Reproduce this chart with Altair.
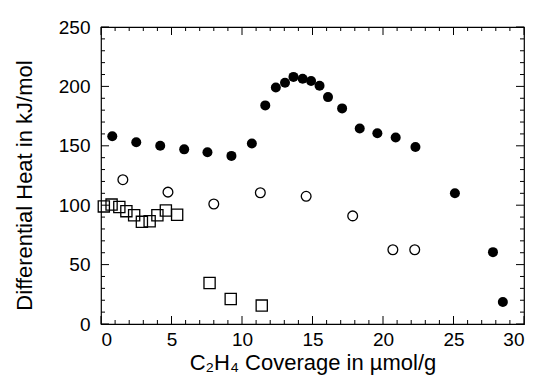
import altair as alt
import pandas as pd

# Filled circles
fc_x = [0.8, 2.5, 4.2, 5.9, 7.55, 9.25, 10.7, 11.65, 12.4, 13.05, 13.65, 14.3, 14.9, 15.5, 16.1, 17.1, 18.35, 19.6, 20.9, 22.3, 25.1, 27.8, 28.5]
fc_y = [158, 153, 150, 147, 144.5, 141.5, 152, 184, 199, 203, 208, 206.5, 204.5, 200.5, 191, 181.5, 164.5, 160.5, 157, 149, 110, 60.5, 18.5]
# Open circles
oc_x = [1.55, 4.75, 8.0, 11.3, 14.55, 17.85, 20.7, 22.25]
oc_y = [121.5, 111, 101, 110.5, 107.5, 91, 62.5, 62.5]
# Squares
sq_x = [0.2, 0.75, 1.3, 1.8, 2.35, 2.9, 3.45, 4.0, 4.6, 5.4, 7.7, 9.2, 11.4]
sq_y = [99, 100.5, 98.5, 95, 91.5, 86, 86.5, 91.5, 95.5, 92, 34.5, 21, 15.5]

x_major = [0, 5, 10, 15, 20, 25, 30]
x_minor = [v for v in range(1, 30) if v % 5 != 0]
y_major = [0, 50, 100, 150, 200, 250]
y_minor = [v for v in range(10, 250, 10) if v % 50 != 0]

W, H = 423, 297
FONT = "Liberation Sans"

xs = alt.Scale(domain=[0, 30], nice=False, zero=False)
ys = alt.Scale(domain=[0, 250], nice=False, zero=False)

fc = pd.DataFrame({"x": fc_x, "y": fc_y})
oc = pd.DataFrame({"x": oc_x, "y": oc_y})
sq = pd.DataFrame({"x": sq_x, "y": sq_y})

xaxis = alt.Axis(values=x_major, ticks=False, domain=False, grid=False,
                 labelFontSize=19, labelFont=FONT, labelColor="black", labelPadding=6,
                 title="C₂H₄ Coverage in µmol/g", titleFontSize=22, titleFont=FONT,
                 titleFontWeight="normal", titleColor="black",
                 titleX=W / 2, titleY=38, titleBaseline="middle", titleAlign="center")
yaxis = alt.Axis(values=y_major, ticks=False, domain=False, grid=False,
                 labelFontSize=19, labelFont=FONT, labelColor="black", labelPadding=11,
                 title="Differential Heat in kJ/mol", titleFontSize=22, titleFont=FONT,
                 titleFontWeight="normal", titleColor="black",
                 titleX=-77, titleY=158, titleAngle=-90, titleBaseline="middle", titleAlign="center")

X = lambda: alt.X("x:Q", scale=xs, axis=xaxis)
Y = lambda: alt.Y("y:Q", scale=ys, axis=yaxis)

base_pts = alt.Chart(fc).mark_point(shape="circle", filled=True, color="black", size=100, opacity=1).encode(x=X(), y=Y())
open_pts = alt.Chart(oc).mark_point(shape="circle", filled=False, color="black", size=95, strokeWidth=1.3, opacity=1).encode(x=X(), y=Y())
sq_pts = alt.Chart(sq).mark_point(shape="square", filled=False, color="black", size=125, strokeWidth=1.3, opacity=1).encode(x=X(), y=Y())

def xticks(vals, L):
    d = pd.DataFrame({"x": vals})
    b = alt.Chart(d).mark_rule(color="black", strokeWidth=1)
    bottom = b.encode(x=X(), y=alt.value(H), y2=alt.value(H - L))
    top = b.encode(x=X(), y=alt.value(0), y2=alt.value(L))
    return [bottom, top]

def yticks(vals, L):
    d = pd.DataFrame({"y": vals})
    b = alt.Chart(d).mark_rule(color="black", strokeWidth=1)
    left = b.encode(y=Y(), x=alt.value(0), x2=alt.value(L))
    right = b.encode(y=Y(), x=alt.value(W), x2=alt.value(W - L))
    return [left, right]

layers = xticks(x_major, 8) + xticks(x_minor, 4) + yticks(y_major, 8) + yticks(y_minor, 4)

chart = alt.layer(base_pts, *layers, open_pts, sq_pts).properties(
    width=W, height=H,
    autosize=alt.AutoSizeParams(type="none"),
    padding={"left": 93, "top": 19, "right": 7, "bottom": 53},
    background="white",
).configure_view(stroke="black", strokeWidth=1.2)

chart.save("out.html", embed_options={"renderer": "svg", "actions": False})
